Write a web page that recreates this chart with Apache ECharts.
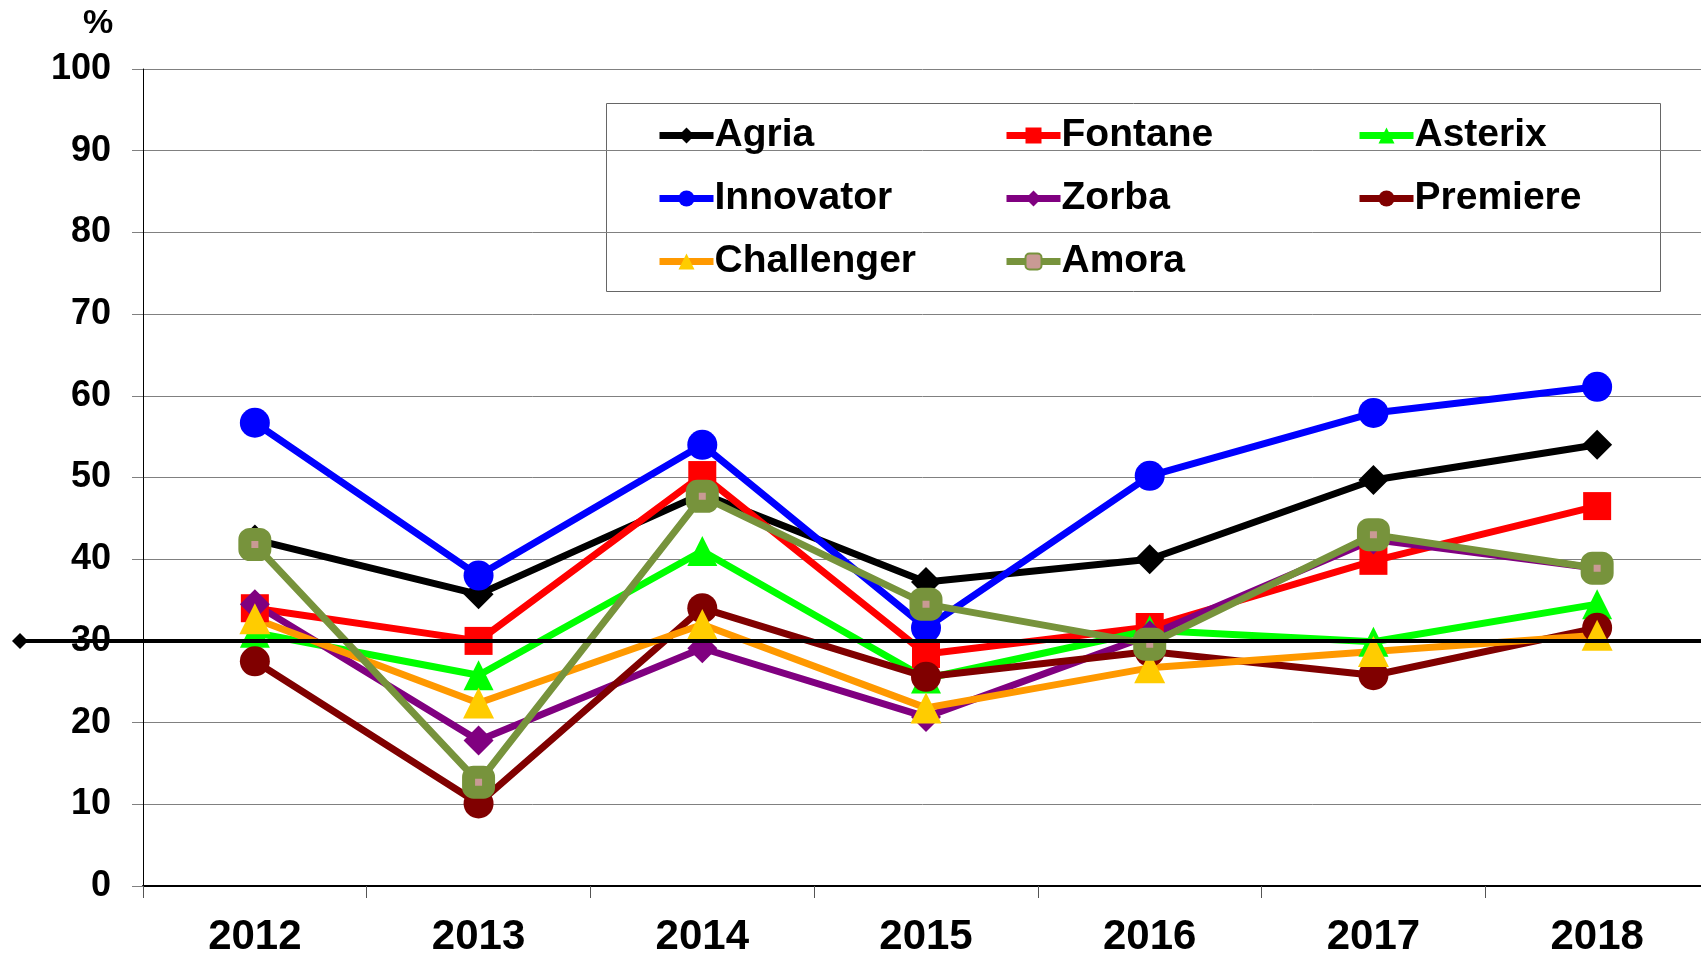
<!DOCTYPE html>
<html>
<head>
<meta charset="utf-8">
<script src="https://cdn.jsdelivr.net/npm/echarts@6/dist/echarts.min.js"></script>
<style>
html,body{margin:0;padding:0;background:#fff}
#main{width:1701px;height:957px}
</style>
</head>
<body>
<div id="main"></div>
<script>
var years = ['2012','2013','2014','2015','2016','2017','2018'];
var yTicks = {min:0, max:100, step:10};
var refLevel = 30;

var agria      = [42.4, 35.7, 48.0, 37.2, 40.0, 49.7, 54.0];
var fontane    = [34.0, 30.0, 50.3, 28.4, 31.7, 39.8, 46.5];
var asterix    = [31.0, 25.8, 41.0, 25.4, 31.3, 29.9, 34.5];
var innovator  = [56.7, 38.0, 54.0, 31.6, 50.2, 57.9, 61.1];
var zorba      = [34.5, 17.8, 29.1, 20.7, 30.7, 42.4, 38.9];
var premiere   = [27.5, 10.1, 34.0, 25.6, 28.7, 25.8, 31.6];
var challenger = [32.7, 22.4, 32.0, 21.8, 26.7, 28.7, 30.7];
var amora      = [41.8, 12.7, 47.7, 34.5, 29.6, 43.0, 38.9];

// legend columns, as laid out in the boxed legend
var legendCols = [
    ['Agria', 'Innovator', 'Challenger'],
    ['Fontane', 'Zorba', 'Amora'],
    ['Asterix', 'Premiere']
];
var legendLeft = [651, 998, 1351];

var fontName = '"Liberation Sans", Arial, sans-serif';

function mkSeries(name, data, lineColor, markColor, symbol, size) {
    return {
        name: name,
        type: 'line',
        data: data,
        symbol: symbol,
        symbolSize: size,
        lineStyle: {color: lineColor, width: 7},
        itemStyle: {color: markColor, borderWidth: 0},
        emphasis: {disabled: true},
        animation: false
    };
}

var series = [
    mkSeries('Agria', agria, '#000000', '#000000', 'diamond', 30),
    mkSeries('Fontane', fontane, '#ff0000', '#ff0000', 'rect', 28),
    mkSeries('Asterix', asterix, '#00ff00', '#00ff00', 'triangle', 30),
    mkSeries('Innovator', innovator, '#0000ff', '#0000ff', 'circle', 30),
    mkSeries('Zorba', zorba, '#800080', '#800080', 'diamond', 30),
    mkSeries('Premiere', premiere, '#800000', '#800000', 'circle', 30),
    mkSeries('Challenger', challenger, '#ff9900', '#ffcc00', 'triangle', 31),
    mkSeries('Amora', amora, '#77933c', '#c99a94', 'roundRect', 20)
];
// Amora markers: olive ring round a small pink centre
series[7].itemStyle = {color: '#c99a94', borderColor: '#77933c', borderWidth: 13};
// 30 % reference line, drawn over everything, starting outside the plot
series[7].markLine = {
    silent: true,
    symbol: ['diamond', 'none'],
    symbolSize: 16,
    label: {show: false},
    lineStyle: {color: '#000', width: 4, type: 'solid'},
    data: [[{x: 20, yAxis: refLevel}, {x: 1701, yAxis: refLevel}]],
    animation: false
};

var legends = [];
for (var i = 0; i < legendCols.length; i++) {
    legends.push({
        left: legendLeft[i],
        top: 111,
        orient: 'vertical',
        itemGap: 24,
        itemWidth: 54,
        itemHeight: 20,
        selectedMode: false,
        lineStyle: {width: 7},
        textStyle: {fontFamily: fontName, fontWeight: 'bold', fontSize: 39, color: '#000', padding: [0, 0, 0, -4]},
        data: legendCols[i]
    });
}

var myChart = echarts.init(document.getElementById('main'));
var option = {
    backgroundColor: '#fff',
    animation: false,
    // the plot runs a little past the right edge of the picture
    grid: {left: 143, top: 69, right: -8, bottom: 71, outerBoundsMode: 'none'},
    legend: legends,
    graphic: [{
        type: 'rect',
        left: 604, top: 101,
        shape: {width: 1054, height: 188},
        style: {fill: 'none', stroke: '#666', lineWidth: 1},
        z: -1
    }],
    xAxis: {
        type: 'category',
        data: years,
        boundaryGap: true,
        axisLine: {lineStyle: {color: '#000', width: 2}},
        axisTick: {show: true, length: 12, lineStyle: {color: '#555'}},
        axisLabel: {fontFamily: fontName, fontWeight: 'bold', fontSize: 42, color: '#000', margin: 30},
        splitLine: {show: false}
    },
    yAxis: {
        type: 'value',
        min: yTicks.min,
        max: yTicks.max,
        interval: yTicks.step,
        name: '%',
        nameLocation: 'end',
        nameGap: 28,
        nameTextStyle: {fontFamily: fontName, fontWeight: 'bold', fontSize: 34, color: '#000', align: 'center', padding: [0, 0, 0, -90]},
        axisLine: {show: true, lineStyle: {color: '#000', width: 1}},
        axisTick: {show: true, length: 11, lineStyle: {color: '#808080'}},
        axisLabel: {fontFamily: fontName, fontWeight: 'bold', fontSize: 36, color: '#000', margin: 32},
        splitLine: {show: true, lineStyle: {color: '#808080', width: 1}}
    },
    series: series
};
myChart.setOption(option);
</script>
</body>
</html>
